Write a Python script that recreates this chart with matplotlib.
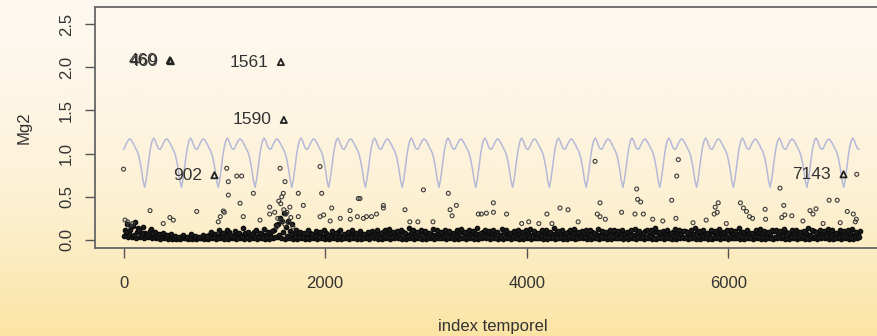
import numpy as np
import matplotlib
matplotlib.use("Agg")
import matplotlib.pyplot as plt
from matplotlib.colors import LinearSegmentedColormap

plt.rcParams['font.family'] = ['Liberation Sans', 'DejaVu Sans']

# --- data ---

# seasonal reference curve: one year sampled every 15 days, repeated each year
seasonal_days = [0, 15, 30, 45, 60, 75, 90, 105, 120, 135, 150, 165, 180,
                 195, 210, 225, 240, 255, 270, 285, 300, 315, 330, 345, 360]
seasonal_year = [1.05, 1.08, 1.12, 1.15, 1.17, 1.16, 1.13, 1.10, 1.06, 1.03,
                 0.98, 0.90, 0.80, 0.68, 0.61, 0.70, 0.83, 0.97, 1.08, 1.15,
                 1.18, 1.15, 1.10, 1.06, 1.05]
n_years = 20
year_len = 365

# dense band of small values (hundredths), four interleaved rows,
# one value every 40 index steps in each row
band_step = 40
band_base = [5, 3, 4, 2, 3, 2, 3, 2,
             2, 1, 2, 1,
             1, 1, 1, 2, 1, 1, 1, 2, 1,
             1, 2, 1, 2, 1, 1, 2, 1, 2, 1, 1, 2, 1, 2, 1, 1,
             2, 3, 2, 1, 2, 1,
             1, 2, 1, 1, 2, 1, 2, 1, 1, 2, 1, 1, 2, 1, 2, 1, 1, 2,
             1, 2, 1, 1, 2, 1, 2, 2, 1, 1, 2, 1, 2, 1, 1, 2, 1, 2, 2, 1,
             2, 1, 1, 2, 1, 2, 1, 1, 2, 2, 1, 2, 1, 1, 2, 1, 2, 1, 1, 2,
             1, 2, 2, 1, 1, 2, 1, 2, 1, 1, 2, 1, 2, 2, 1, 1, 2, 1, 2, 1,
             1, 2,
             2, 1, 1, 2, 1, 2, 1, 2, 1, 1, 2, 1, 2, 1, 1, 2, 2, 1, 2, 1,
             1, 2, 1, 1, 2, 1, 2, 1, 2, 2, 1, 1, 2, 1, 2, 1, 1, 2, 1, 2,
             2, 1, 1, 2, 1, 2, 1, 1, 2, 1, 2, 2, 1, 1, 2, 1, 2, 1, 1, 2]
band_mid = [12, 7, 16, 9, 5, 8, 6, 4,
            3, 5, 6, 4,
            3, 2, 4, 3, 2, 4, 3, 2, 3,
            6, 7, 5, 8, 6, 9, 5, 7, 6, 8, 6, 9, 5, 7, 6, 8,
            12, 18, 22, 15, 10, 8,
            6, 7, 5, 8, 6, 7, 5, 8, 6, 7, 9, 5, 7, 6, 8, 5, 7, 6,
            7, 8, 6, 9, 7, 8, 6, 7, 9, 6, 8, 7, 6, 9, 8, 7, 6, 8, 7, 9,
            7, 6, 8, 9, 7, 6, 8, 7, 9, 6, 7, 8, 6, 9, 7, 8, 6, 7, 9, 8,
            6, 7, 8, 9, 6, 7, 8, 7, 6, 9, 7, 8, 6, 7, 8, 9, 7, 6, 8, 7,
            9, 6,
            8, 7, 9, 6, 8, 7, 10, 6, 8, 9, 7, 8, 6, 9, 7, 8, 10, 6, 7, 9,
            8, 6, 7, 9, 8, 7, 6, 10, 8, 7, 9, 6, 8, 7, 9, 8, 6, 7, 10, 8,
            7, 9, 6, 8, 7, 9, 8, 6, 10, 7, 8, 7, 9, 6, 8, 7, 9, 8, 6, 7]
band_low = [9, 12, 6, 14, 8, 5, 10, 6,
            4, 5, 4, 5,
            2, 2, 3, 2, 2, 3, 2, 3, 2,
            3, 4, 2, 5, 3, 4, 3, 2, 4, 3, 5, 3, 4, 2, 3, 4,
            4, 6, 9, 5, 7, 4,
            3, 4, 2, 3, 5, 3, 2, 4, 3, 3, 5, 2, 4, 3, 3, 4, 2, 3,
            3, 4, 2, 5, 3, 3, 4, 2, 3, 5, 4, 3, 2, 4, 3, 5, 3, 2, 4, 3,
            3, 5, 2, 4, 3, 4, 2, 3, 5, 3, 4, 2, 3, 4, 3, 5, 2, 4, 3, 3,
            4, 2, 5, 3, 4, 3, 2, 4, 3, 5, 3, 2, 4, 3, 4, 3, 2, 5, 3, 4,
            3, 2,
            4, 3, 5, 2, 4, 3, 3, 5, 2, 4, 3, 4, 2, 5, 3, 3, 4, 2, 4, 3,
            5, 3, 2, 4, 3, 4, 3, 5, 2, 3, 4, 3, 2, 5, 3, 4, 3, 2, 4, 3,
            5, 2, 4, 3, 3, 4, 2, 5, 3, 4, 3, 3, 5, 2, 4, 3, 4, 2, 3, 4]
band_high = [18, 16, 21, 11, 15, 7, 13, 9,
             7, 8, 6, 7,
             5, 4, 6, 4, 7, 5, 4, 6, 5,
             9, 7, 11, 8, 12, 6, 10, 8, 14, 9, 7, 11, 8, 13, 9, 10,
             17, 26, 31, 22, 19, 12,
             9, 8, 12, 7, 10, 9, 11, 6, 10, 8, 12, 7, 9, 11, 8, 10, 7, 9,
             10, 12, 8, 11, 13, 9, 10, 12, 8, 14, 11, 9, 12, 10, 8, 13, 11, 9, 12, 10,
             8, 11, 13, 9, 12, 10, 14, 8, 11, 10, 12, 9, 13, 11, 8, 10, 12, 9, 11, 13,
             10, 8, 12, 11, 9, 14, 10, 12, 8, 11, 13, 9, 10, 12, 11, 8, 13, 10, 9, 12,
             11, 10,
             12, 9, 11, 13, 10, 8, 12, 11, 14, 9, 10, 12, 8, 13, 11, 10, 9, 12, 14, 10,
             11, 8, 12, 10, 13, 9, 11, 12, 10, 14, 9, 11, 8, 12, 13, 10, 9, 11, 12, 10,
             13, 8, 11, 12, 9, 10, 14, 11, 9, 12, 10, 13, 11, 8, 12, 10, 11, 13, 9, 10]

# isolated points above the band
outlier_x = [0, 1024, 1040, 1123, 1172, 1040, 1288, 1156, 1553, 1602, 1585, 1570,
             1734, 1784, 1949, 1966, 2065, 2247, 2329, 263, 726, 990, 1000, 960,
             940, 494, 460, 394, 15, 40, 60, 90, 1188, 1354, 1450, 1450, 1500,
             1620, 1650, 1734, 1950, 1985, 2050, 2150, 2250, 2320, 2380,
             1540, 1560, 1590, 1610, 1530, 1570, 1640, 1660, 1600, 1520, 1680,
             2975, 3222, 4678, 4727, 3669, 2578, 2578, 2792, 3302, 3240, 3260,
             3520, 3550, 3600, 3670, 3800, 4330, 4410, 4200, 4700, 4727, 2840,
             2920, 3070, 2410, 2460, 2510, 3950, 4020, 4120, 4250, 4510, 4780, 2346,
             5504, 5488, 7274, 6513, 5091, 5100, 5130, 5438, 7000, 7080, 5900,
             5870, 5890, 5860, 6120, 6150, 6180, 6365, 6550, 4941, 5074, 5157,
             6560, 6530, 6630, 7180, 7240, 7270, 7260, 6210, 6240, 6810, 6840,
             6870, 5250, 5350, 5480, 5650, 5780, 5980, 6370, 6740, 6940, 7110]
outlier_y = [0.82, 0.83, 0.675, 0.74, 0.74, 0.52, 0.54, 0.425, 0.83, 0.675, 0.54, 0.50,
             0.54, 0.40, 0.85, 0.54, 0.37, 0.34, 0.48, 0.34, 0.33, 0.335, 0.32, 0.27,
             0.21, 0.23, 0.26, 0.19, 0.23, 0.21, 0.17, 0.19, 0.27, 0.23, 0.30, 0.38, 0.32,
             0.32, 0.38, 0.27, 0.27, 0.29, 0.22, 0.25, 0.24, 0.27, 0.25,
             0.45, 0.42, 0.35, 0.30, 0.25, 0.22, 0.20, 0.26, 0.18, 0.15, 0.15,
             0.58, 0.54, 0.91, 0.43, 0.43, 0.40, 0.37, 0.35, 0.40, 0.35, 0.28,
             0.30, 0.30, 0.31, 0.32, 0.30, 0.37, 0.35, 0.30, 0.30, 0.27, 0.21,
             0.21, 0.21, 0.27, 0.27, 0.30, 0.19, 0.21, 0.19, 0.19, 0.21, 0.24, 0.48,
             0.93, 0.74, 0.76, 0.60, 0.59, 0.47, 0.44, 0.46, 0.46, 0.46, 0.43,
             0.38, 0.32, 0.30, 0.43, 0.37, 0.33, 0.355, 0.40, 0.32, 0.30, 0.30,
             0.29, 0.26, 0.28, 0.33, 0.30, 0.24, 0.21, 0.27, 0.25, 0.34, 0.30,
             0.36, 0.24, 0.22, 0.25, 0.20, 0.23, 0.19, 0.24, 0.22, 0.19, 0.20]

# flagged observations (triangles with their index)
flag_idx = [460, 469, 902, 1561, 1590, 7143]
flag_val = [2.08, 2.07, 0.75, 2.06, 1.39, 0.76]

# --- build series ---
curve_x = np.concatenate([np.array(seasonal_days) + year_len * k for k in range(n_years)])
curve_y = np.tile(seasonal_year, n_years)

band_rows = [(band_base, 0), (band_mid, 10), (band_low, 20), (band_high, 30)]

# --- figure ---
W, H = 878, 336
fig = plt.figure(figsize=(W / 100, H / 100), dpi=100)

# warm vertical gradient behind everything
bg = fig.add_axes([0, 0, 1, 1], zorder=-10)
grad = np.linspace(0, 1, 256).reshape(-1, 1) ** 1.3
cmap = LinearSegmentedColormap.from_list('bg', ['#fdf9f1', '#fdf1d4', '#fbe4a4'])
bg.imshow(grad, aspect='auto', cmap=cmap, extent=[0, 1, 0, 1], origin='upper')
bg.axis('off')

ax = fig.add_axes([95 / W, 1 - 248 / H, 795 / W, 241 / H])
ax.patch.set_alpha(0)

ax.plot(curve_x, curve_y, color='#b5b9d8', lw=1.1, zorder=1)

# the band is so dense in the original that the open circles merge into black
for vals, shift in band_rows:
    xs = np.arange(len(vals)) * band_step + shift
    ax.scatter(xs, np.array(vals) / 100, s=10, facecolors='#1a1a1a',
               edgecolors='#0d0d0d', linewidths=0.9, zorder=2)
ax.scatter(outlier_x, outlier_y, s=8, facecolors='none', edgecolors='#3a3a3a',
           linewidths=0.8, zorder=2)

ax.scatter(flag_idx, flag_val, s=20, marker='^', facecolors='none',
           edgecolors='#222222', linewidths=1.3, zorder=3)
for i, v in zip(flag_idx, flag_val):
    ax.annotate(str(i), (i, v), xytext=(-9, 0), textcoords='offset points',
                ha='right', va='center', fontsize=12.5, color='#333333')

ax.set_xlim(-283, 7604)
ax.set_ylim(-0.093, 2.697)
ax.set_xticks([0, 2000, 4000, 6000])
ax.set_yticks([0.0, 0.5, 1.0, 1.5, 2.0, 2.5])
ax.set_yticklabels(['0.0', '0.5', '1.0', '1.5', '2.0', '2.5'], rotation=90, va='center')

for s in ax.spines.values():
    s.set_color('#666666')
    s.set_linewidth(1.3)
ax.tick_params(axis='both', colors='#555555', labelcolor='#333333',
               labelsize=12, length=7, width=1.0)
ax.tick_params(axis='x', pad=13)
ax.tick_params(axis='y', pad=8)

ax.set_xlabel('index temporel', fontsize=12, color='#333333', labelpad=20)
ax.set_ylabel('Mg2', fontsize=12, color='#333333', labelpad=20)

fig.savefig('out.png', dpi=100)
